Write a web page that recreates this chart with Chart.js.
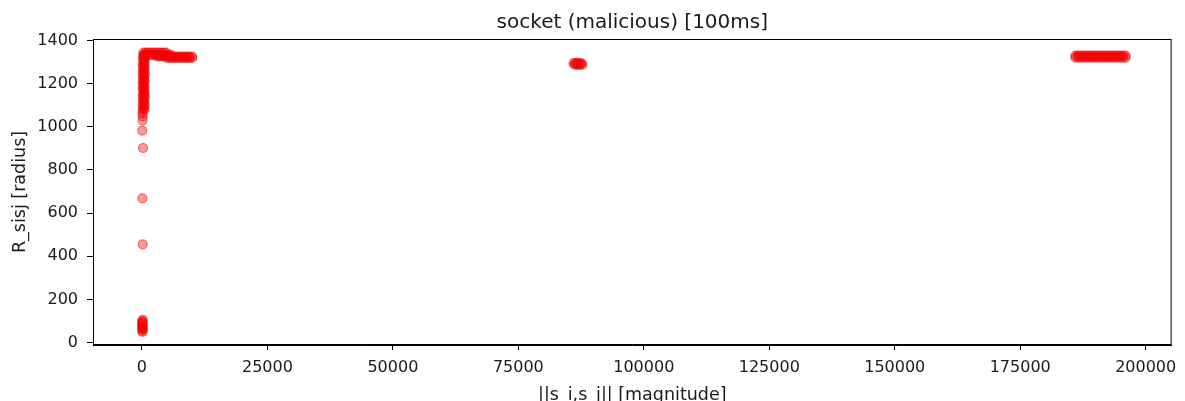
<!DOCTYPE html>
<html>
<head>
<meta charset="utf-8">
<script src="https://cdn.jsdelivr.net/npm/chart.js@4/dist/chart.umd.min.js"></script>
<style>
html, body { margin: 0; padding: 0; background: #fff; overflow: hidden; }
#wrap { width: 1185px; height: 412px; }
</style>
</head>
<body>
<div id="wrap"><canvas id="Chart"></canvas></div>
<script>
// values
const lowX = [120, 60, 200, 90, 150, 30, 180, 110, 70, 140, 40, 170];
const lowY = [50, 55, 60, 65, 70, 75, 80, 85, 90, 95, 100, 105];

const isolatedX = [150, 90, 210, 60, 130, 170, 110];
const isolatedY = [455, 668, 902, 982, 1030, 1048, 1062];

const columnX = [180, 520, 240, 460, 150, 560, 300, 420, 200, 500, 260, 580, 160, 480, 340,
                 540, 220, 440, 180, 520, 280, 400, 150, 560, 320, 460, 200, 500, 240, 580,
                 170, 440, 300, 540, 220, 480, 160, 520, 360, 560, 200, 460, 260, 500];
const columnY = [1074, 1080, 1086, 1092, 1098, 1104, 1110, 1116, 1122, 1128, 1134, 1140, 1146, 1152, 1158,
                 1164, 1170, 1176, 1182, 1188, 1194, 1200, 1206, 1212, 1218, 1224, 1230, 1236, 1242, 1248,
                 1254, 1260, 1266, 1272, 1278, 1284, 1290, 1296, 1302, 1308, 1314, 1320, 1326, 1332];

const bandRowY = [1344, 1333, 1326, 1319];
const bandRowX = [
    [300, 800, 1300, 1800, 2300, 2800, 3300, 3800, 4300, 4800],
    [300, 800, 1300, 1800, 2300, 2800, 3300, 3800, 4300, 4800, 5300, 5800],
    [3000, 3500, 4000, 4500, 5000, 5500, 6000, 6500, 7000, 7500, 8000, 8500, 9000, 9500, 10000],
    [5000, 5500, 6000, 6500, 7000, 7500, 8000, 8500, 9000, 9500, 10000]
];

const midX = [86000, 86400, 86800, 87200, 87600, 86200, 86600, 87000, 87400, 87800];
const midY = [1295, 1295, 1296, 1295, 1294, 1288, 1288, 1287, 1288, 1288];

const rightRowY = [1330, 1321];
const rightX = [186000, 186500, 187000, 187500, 188000, 188500, 189000, 189500, 190000, 190500,
                191000, 191500, 192000, 192500, 193000, 193500, 194000, 194500, 195000, 195500, 196000];

const xTickValues = [0, 25000, 50000, 75000, 100000, 125000, 150000, 175000, 200000];
const yTickValues = [0, 200, 400, 600, 800, 1000, 1200, 1400];

let points = [];
for (let i = 0; i < lowX.length; i++) points.push({x: lowX[i], y: lowY[i]});
for (let i = 0; i < isolatedX.length; i++) points.push({x: isolatedX[i], y: isolatedY[i]});
for (let i = 0; i < columnX.length; i++) points.push({x: columnX[i], y: columnY[i]});
for (let r = 0; r < bandRowY.length; r++) {
    for (let i = 0; i < bandRowX[r].length; i++) points.push({x: bandRowX[r][i], y: bandRowY[r]});
}
for (let i = 0; i < midX.length; i++) points.push({x: midX[i], y: midY[i]});
for (let r = 0; r < rightRowY.length; r++) {
    for (let i = 0; i < rightX.length; i++) points.push({x: rightX[i], y: rightRowY[r]});
}

// full box round the plot, and title centred over the plot area
const framePlugin = {
    id: 'frame',
    afterLayout(chart) {
        const t = chart.titleBlock;
        if (t) {
            t.left = chart.chartArea.left;
            t.right = chart.chartArea.right;
            t.width = t.right - t.left;
        }
    },
    afterDraw(chart) {
        const a = chart.chartArea;
        const ctx = chart.ctx;
        ctx.save();
        ctx.strokeStyle = '#000';
        ctx.lineWidth = 1;
        ctx.strokeRect(a.left + 0.5, a.top + 0.5, a.right - a.left - 1, a.bottom - a.top - 1);
        ctx.restore();
    }
};

const textColor = '#1a1a1a';
const fontFamily = "'DejaVu Sans', sans-serif";

let ctx = document.getElementById('Chart').getContext('2d');
let chart = new Chart(ctx, {
    type: 'scatter',
    data: {
        datasets: [{
            label: 'socket',
            data: points,
            pointRadius: 4.5,
            pointHoverRadius: 4.5,
            backgroundColor: 'rgba(255, 0, 0, 0.4)',
            borderColor: 'rgba(225, 0, 0, 0.5)',
            borderWidth: 1.2
        }]
    },
    options: {
        animation: false,
        responsive: true,
        maintainAspectRatio: false,
        layout: {padding: {left: 0, right: 12, top: 0, bottom: 0}},
        plugins: {
            legend: {display: false},
            tooltip: {enabled: false},
            title: {
                display: true,
                text: 'socket (malicious) [100ms]',
                color: textColor,
                font: {family: fontFamily, size: 20, weight: 'normal'},
                padding: {top: 11, bottom: 4}
            }
        },
        scales: {
            x: {
                type: 'linear',
                min: -9750,
                max: 205170,
                afterFit: scale => { scale.height = 67; },
                afterBuildTicks: scale => { scale.ticks = xTickValues.map(v => ({value: v})); },
                grid: {drawOnChartArea: false, drawTicks: true, tickLength: 5, color: '#000'},
                border: {display: true, color: '#000'},
                ticks: {
                    color: textColor,
                    padding: 8.5,
                    maxRotation: 0,
                    font: {family: fontFamily, size: 16},
                    callback: v => String(v)
                },
                title: {
                    display: true,
                    text: '||s_i,s_j|| [magnitude]',
                    color: textColor,
                    font: {family: fontFamily, size: 17.5},
                    padding: {top: 0, bottom: 6.5}
                }
            },
            y: {
                type: 'linear',
                min: -11,
                max: 1407,
                afterFit: scale => { scale.width = 93; },
                afterBuildTicks: scale => { scale.ticks = yTickValues.map(v => ({value: v})); },
                grid: {drawOnChartArea: false, drawTicks: true, tickLength: 6, color: '#000'},
                border: {display: true, color: '#000'},
                ticks: {
                    color: textColor,
                    padding: 9,
                    font: {family: fontFamily, size: 16},
                    callback: v => String(v)
                },
                title: {
                    display: true,
                    text: 'R_sisj [radius]',
                    color: textColor,
                    font: {family: fontFamily, size: 17.5},
                    padding: {top: 10, bottom: 0}
                }
            }
        }
    },
    plugins: [framePlugin]
});
</script>
</body>
</html>
